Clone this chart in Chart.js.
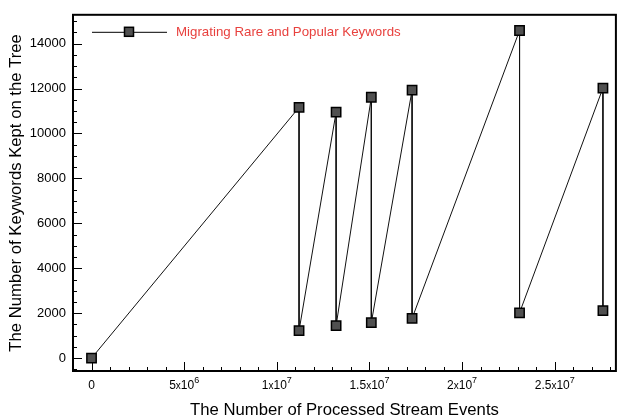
<!DOCTYPE html>
<html><head><meta charset="utf-8">
<script src="https://cdn.jsdelivr.net/npm/chart.js@4/dist/chart.umd.min.js"></script>
<style>html,body{margin:0;padding:0;background:#fff}</style>
</head><body>
<canvas id="c" width="624" height="420"></canvas>
<script>
const seriesLabel = 'Migrating Rare and Popular Keywords';
const eventsX = [0, 11.2e6, 11.2e6, 13.2e6, 13.2e6, 15.1e6, 15.1e6, 17.3e6, 17.3e6, 23.1e6, 23.1e6, 27.6e6, 27.6e6];
const keywordsY = [0, 11160, 1230, 10950, 1450, 11610, 1580, 11930, 1770, 14580, 2020, 12020, 2120];
const xTickValues = [0, 5e6, 1e7, 1.5e7, 2e7, 2.5e7];
const xTickMantissa = ['0', '5', '1', '1.5', '2', '2.5'];
const xTickExponent = ['', '6', '7', '7', '7', '7'];
const yTickValues = [0, 2000, 4000, 6000, 8000, 10000, 12000, 14000];
const yTickLabels = ['0', '2000', '4000', '6000', '8000', '10000', '12000', '14000'];
const xMinorStep = 1e6;
const yMinorStep = 500;

const points = eventsX.map((x, i) => ({x: x, y: keywordsY[i]}));
const FONT = '"Liberation Sans", Arial, Helvetica, sans-serif';

const framePlugin = {
  id: 'frame',
  afterDraw(chart) {
    const ctx = chart.ctx;
    const a = chart.chartArea;
    const xs = chart.scales.x, ys = chart.scales.y;
    ctx.save();
    ctx.strokeStyle = '#000';
    ctx.lineWidth = 1;
    ctx.beginPath();
    for (let v = Math.ceil(xs.min / xMinorStep) * xMinorStep; v <= xs.max; v += xMinorStep) {
      const px = Math.round(xs.getPixelForValue(v)) + 0.5;
      const major = xTickValues.includes(v);
      ctx.moveTo(px, a.bottom);
      ctx.lineTo(px, a.bottom - (major ? 9 : 4));
    }
    for (let v = Math.ceil(ys.min / yMinorStep) * yMinorStep; v <= ys.max; v += yMinorStep) {
      const py = Math.round(ys.getPixelForValue(v)) + 0.5;
      const major = yTickValues.includes(v);
      ctx.moveTo(a.left, py);
      ctx.lineTo(a.left + (major ? 9 : 4), py);
    }
    ctx.stroke();
    ctx.lineWidth = 2;
    ctx.strokeRect(a.left, a.top, a.right - a.left, a.bottom - a.top);

    // x tick labels with superscript exponents
    ctx.fillStyle = '#000';
    ctx.textBaseline = 'alphabetic';
    ctx.textAlign = 'left';
    const baseY = a.bottom + 18;
    xTickValues.forEach((v, i) => {
      const px = xs.getPixelForValue(v);
      const m = xTickMantissa[i], e = xTickExponent[i];
      const fBig = '12px ' + FONT, fX = '10px ' + FONT, fSup = '9px ' + FONT;
      let parts;
      if (!e) parts = [[m, fBig, 0]];
      else parts = [[m, fBig, 0], ['x', fX, 0], ['10', fBig, 0], [e, fSup, -6]];
      let w = 0;
      parts.forEach(p => { ctx.font = p[1]; w += ctx.measureText(p[0]).width; });
      let cx = px - w / 2;
      parts.forEach(p => { ctx.font = p[1]; ctx.fillText(p[0], cx, baseY + p[2]); cx += ctx.measureText(p[0]).width; });
    });

    // legend
    const ds = chart.data.datasets[0];
    const ly = a.top + 17;
    ctx.lineWidth = 1;
    ctx.beginPath();
    ctx.moveTo(a.left + 19, ly + 0.5);
    ctx.lineTo(a.left + 94, ly + 0.5);
    ctx.stroke();
    const mx = a.left + 56;
    ctx.fillStyle = ds.pointBackgroundColor;
    ctx.lineWidth = ds.pointBorderWidth;
    ctx.fillRect(mx - 4.5, ly - 4.5, 9, 9);
    ctx.strokeRect(mx - 4.5, ly - 4.5, 9, 9);
    ctx.fillStyle = '#e8413e';
    ctx.font = '13.3px ' + FONT;
    ctx.textBaseline = 'middle';
    ctx.textAlign = 'left';
    ctx.fillText(ds.label, a.left + 103, ly + 1);
    ctx.restore();
  }
};

new Chart(document.getElementById('c'), {
  type: 'scatter',
  data: {
    datasets: [{
      label: seriesLabel,
      data: points,
      showLine: true,
      borderColor: '#111',
      borderWidth: 1,
      pointStyle: 'rect',
      pointRadius: 6.6,
      pointHoverRadius: 6.6,
      pointBackgroundColor: '#505050',
      pointBorderColor: '#000',
      pointBorderWidth: 1.5,
      tension: 0
    }]
  },
  options: {
    responsive: false,
    animation: false,
    events: [],
    layout: {padding: {left: 0, top: 12, right: 4, bottom: 0}},
    plugins: {legend: {display: false}, tooltip: {enabled: false}},
    scales: {
      x: {
        type: 'linear',
        min: -1.0e6,
        max: 28.3e6,
        afterBuildTicks(scale) { scale.ticks = xTickValues.map(v => ({value: v})); },
        afterFit(scale) { scale.height = 49; },
        grid: {display: false, drawTicks: false},
        border: {display: false},
        ticks: {display: false},
        title: {
          display: true,
          text: 'The Number of Processed Stream Events',
          color: '#000',
          font: {family: FONT, size: 16.7, lineHeight: 1.2},
          padding: {top: 0, bottom: 0}
        }
      },
      y: {
        type: 'linear',
        min: -570,
        max: 15280,
        afterBuildTicks(scale) { scale.ticks = yTickValues.map(v => ({value: v})); },
        afterFit(scale) { scale.width = 73; },
        grid: {display: false, drawTicks: false},
        border: {display: false},
        ticks: {
          color: '#000',
          padding: 7,
          autoSkip: false,
          font: {family: FONT, size: 13},
          callback(v) { const i = yTickValues.indexOf(v); return i >= 0 ? yTickLabels[i] : ''; }
        },
        title: {
          display: true,
          text: 'The Number of Keywords Kept on the Tree',
          color: '#000',
          font: {family: FONT, size: 16.7, lineHeight: 1.25},
          padding: {top: 6, bottom: 0}
        }
      }
    }
  },
  plugins: [framePlugin]
});
</script>
</body></html>
